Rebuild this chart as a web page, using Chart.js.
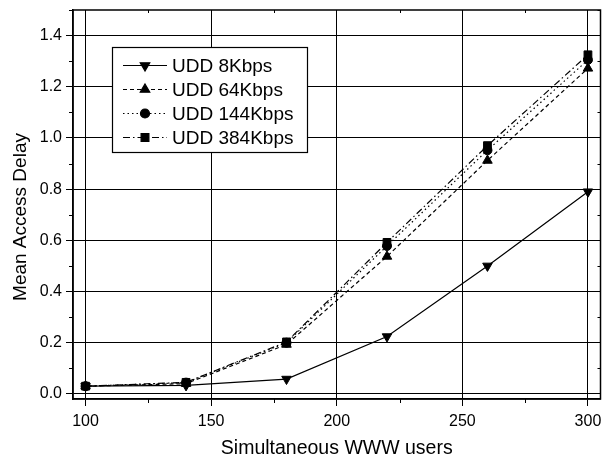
<!DOCTYPE html>
<html>
<head>
<meta charset="utf-8">
<script src="https://cdn.jsdelivr.net/npm/chart.js@4/dist/chart.umd.min.js"></script>
<style>
  html, body { margin: 0; padding: 0; background: #fff; overflow: hidden; }
  #wrap { width: 607px; height: 464px; }
</style>
</head>
<body>
<div id="wrap"><canvas id="delay"></canvas></div>
<script>
// Mean access delay vs. number of simultaneous WWW users, per UDD rate
const users = [100, 140, 180, 220, 260, 300];
const udd8 = [0.030, 0.033, 0.058, 0.224, 0.500, 0.790];
const udd64 = [0.030, 0.040, 0.193, 0.537, 0.912, 1.272];
const udd144 = [0.030, 0.044, 0.200, 0.578, 0.952, 1.305];
const udd384 = [0.030, 0.045, 0.203, 0.592, 0.970, 1.325];
const seriesNames = ['UDD 8Kbps', 'UDD 64Kbps', 'UDD 144Kbps', 'UDD 384Kbps'];
const xTicks = [100, 150, 200, 250, 300];
const yTicks = [0, 0.2, 0.4, 0.6, 0.8, 1.0, 1.2, 1.4];
const yTitle = 'Mean Access Delay';

const FONT = '"Liberation Sans", Arial, sans-serif';

function pts(vals) { return users.map((u, i) => ({ x: u, y: vals[i] })); }

const styles = [
  { dash: [], point: 'triangle', rot: 180, r: 5.5 },
  { dash: [4, 3], point: 'triangle', rot: 0, r: 5.5 },
  { dash: [1.5, 3], point: 'circle', rot: 0, r: 4.5 },
  { dash: [7, 3, 1.5, 3], point: 'rect', rot: 0, r: 5.5 }
];

const datasets = [udd8, udd64, udd144, udd384].map((vals, i) => ({
  label: seriesNames[i],
  data: pts(vals),
  borderColor: '#000',
  backgroundColor: '#000',
  borderWidth: 1.2,
  borderDash: styles[i].dash,
  pointStyle: styles[i].point,
  rotation: styles[i].rot,
  pointRadius: styles[i].r,
  pointBorderWidth: 1,
  pointBackgroundColor: '#000',
  pointBorderColor: '#000',
  tension: 0
}));

// frame, minor ticks, y title and the boxed legend
const framePlugin = {
  id: 'frame',
  afterDraw(chart) {
    const { ctx, chartArea: a, scales } = chart;
    const x = scales.x, y = scales.y;
    ctx.save();
    ctx.strokeStyle = '#000';
    ctx.lineWidth = 1.5;
    ctx.setLineDash([]);
    ctx.strokeRect(a.left, a.top, a.right - a.left, a.bottom - a.top);
    ctx.lineWidth = 1;
    ctx.beginPath();
    // minor ticks, outward on bottom/left, inward on top/right
    for (let v = 125; v < 300; v += 50) {
      const px = Math.round(x.getPixelForValue(v)) + 0.5;
      ctx.moveTo(px, a.bottom); ctx.lineTo(px, a.bottom + 4);
      ctx.moveTo(px, a.top); ctx.lineTo(px, a.top + 3);
    }
    for (let v = 0.1; v < 1.5; v += 0.2) {
      const py = Math.round(y.getPixelForValue(v)) + 0.5;
      ctx.moveTo(a.left, py); ctx.lineTo(a.left - 4, py);
      ctx.moveTo(a.right, py); ctx.lineTo(a.right - 3, py);
    }
    ctx.stroke();

    // y axis title, sitting a little below the axis middle
    ctx.fillStyle = '#000';
    ctx.font = '19px ' + FONT;
    ctx.textAlign = 'center';
    ctx.textBaseline = 'middle';
    ctx.save();
    ctx.translate(21, 217);
    ctx.rotate(-Math.PI / 2);
    ctx.fillText(yTitle, 0, 0);
    ctx.restore();

    // legend box
    const bx = 112, by = 47, bw = 195, bh = 105;
    ctx.fillStyle = '#fff';
    ctx.fillRect(bx, by, bw, bh);
    ctx.lineWidth = 1.2;
    ctx.strokeRect(bx + 0.5, by + 0.5, bw, bh);
    const rowsY = [65, 89, 113, 137];
    ctx.font = '19px ' + FONT;
    ctx.textAlign = 'left';
    ctx.textBaseline = 'middle';
    chart.data.datasets.forEach((ds, i) => {
      const ry = rowsY[i] + 0.5;
      ctx.lineWidth = 1.2;
      ctx.setLineDash(ds.borderDash);
      ctx.beginPath();
      ctx.moveTo(123, ry); ctx.lineTo(167, ry);
      ctx.stroke();
      ctx.setLineDash([]);
      ctx.fillStyle = '#000';
      Chart.helpers.drawPoint(ctx, {
        pointStyle: ds.pointStyle, rotation: ds.rotation, radius: ds.pointRadius, borderWidth: 1
      }, 145, ry);
      ctx.fillText(ds.label, 172, ry + 1);
    });
    ctx.restore();
  }
};

new Chart(document.getElementById('delay'), {
  type: 'line',
  data: { datasets },
  options: {
    responsive: true,
    maintainAspectRatio: false,
    animation: false,
    layout: { padding: { top: 10, right: 2, left: 0, bottom: 0 } },
    plugins: { legend: { display: false }, tooltip: { enabled: false } },
    scales: {
      x: {
        type: 'linear',
        min: 95,
        max: 305,
        afterBuildTicks(s) { s.ticks = xTicks.map(v => ({ value: v })); },
        afterFit(s) { s.height = 65; s.paddingLeft = 0; s.paddingRight = 0; },
        grid: { color: '#000', lineWidth: 1, drawTicks: true, tickLength: 7, tickColor: '#000' },
        border: { display: true, color: '#000', width: 1.5 },
        ticks: { color: '#000', font: { family: FONT, size: 16 }, padding: 6, maxRotation: 0 },
        title: { display: true, text: 'Simultaneous WWW users', color: '#000', font: { family: FONT, size: 19.5 }, padding: { top: 5 } }
      },
      y: {
        type: 'linear',
        min: -0.02,
        max: 1.5,
        afterBuildTicks(s) { s.ticks = yTicks.map(v => ({ value: v })); },
        afterFit(s) { s.width = 73; s.paddingTop = 0; s.paddingBottom = 0; },
        grid: { color: '#000', lineWidth: 1, drawTicks: true, tickLength: 7, tickColor: '#000' },
        border: { display: true, color: '#000', width: 1.5 },
        ticks: { color: '#000', font: { family: FONT, size: 16 }, padding: 4, callback: v => Number(v).toFixed(1) },
        title: { display: false }
      }
    }
  },
  plugins: [framePlugin]
});
</script>
</body>
</html>
